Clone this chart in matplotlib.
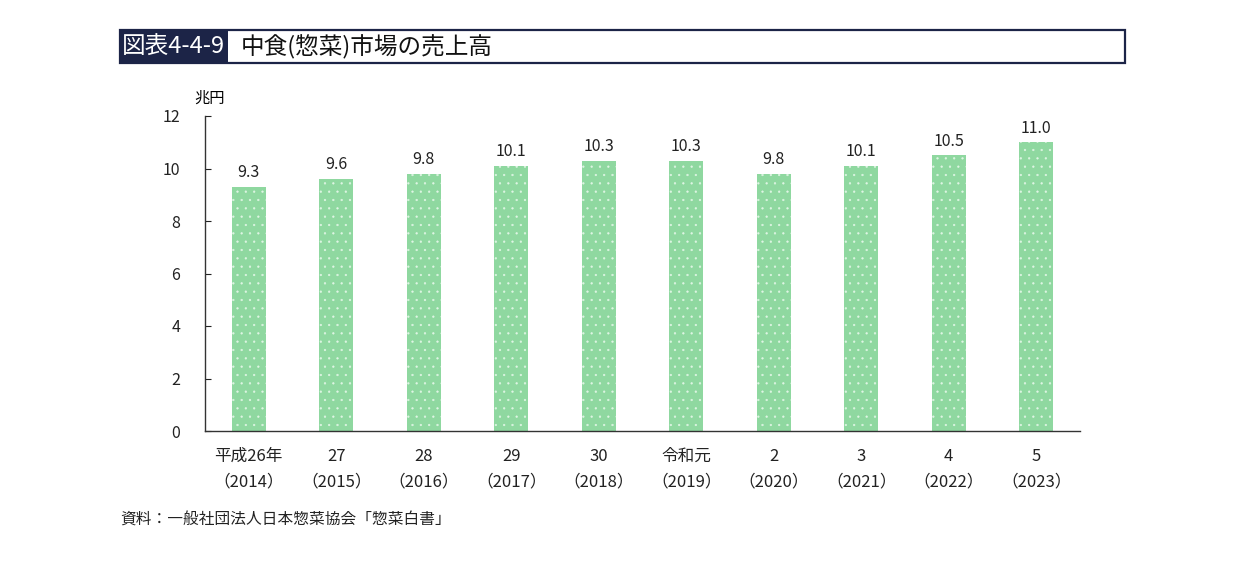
import matplotlib
matplotlib.use('Agg')
import matplotlib.pyplot as plt
from matplotlib.patches import Rectangle

plt.rcParams['font.family'] = ['Noto Sans CJK JP', 'DejaVu Sans']
plt.rcParams['hatch.linewidth'] = 0.4

era_labels = ['平成26年', '27', '28', '29', '30', '令和元', '2', '3', '4', '5']
years = ['2014', '2015', '2016', '2017', '2018', '2019', '2020', '2021', '2022', '2023']
sales = [9.3, 9.6, 9.8, 10.1, 10.3, 10.3, 9.8, 10.1, 10.5, 11.0]
yticks = [0, 2, 4, 6, 8, 10, 12]

navy = '#1c2447'
green = '#8fd8a0'

fig = plt.figure(figsize=(12.41, 5.88), dpi=100)
ax = fig.add_axes([205 / 1241, 1 - 431 / 588, 875 / 1241, 315 / 588])

x = list(range(len(sales)))
bars = ax.bar(x, sales, width=0.39, color=green, edgecolor='#dff5e4',
              linewidth=0, hatch='..')
for xi, v in zip(x, sales):
    ax.annotate(f'{v:.1f}', (xi, v), xytext=(0, 4), textcoords='offset points',
                ha='center', va='bottom', fontsize=11.5, color='#222222')

ax.set_xlim(-0.5, len(sales) - 0.5)
ax.set_ylim(0, 12)
ax.set_yticks(yticks)
ax.set_yticklabels([str(t) for t in yticks], fontsize=11.5)
ax.tick_params(axis='y', direction='in', length=4, pad=18, colors='#222222')
ax.set_xticks(x)
ax.set_xticklabels([f'{e}\n（{y}）' for e, y in zip(era_labels, years)],
                   fontsize=12, linespacing=1.7)
ax.tick_params(axis='x', length=0, pad=12, colors='#222222')
for s in ['top', 'right']:
    ax.spines[s].set_visible(False)
for s in ['left', 'bottom']:
    ax.spines[s].set_color('#333333')
    ax.spines[s].set_linewidth(1.0)

fig.text(210 / 1241, 1 - 98 / 588, '兆円', fontsize=11, ha='center', va='center')

# title box
fig.patches.append(Rectangle((120 / 1241, 1 - 63 / 588), 1005 / 1241, 33 / 588,
                             transform=fig.transFigure, facecolor='white',
                             edgecolor=navy, linewidth=1.6))
fig.patches.append(Rectangle((121 / 1241, 1 - 62 / 588), 107 / 1241, 31 / 588,
                             transform=fig.transFigure, facecolor=navy,
                             edgecolor='none'))
fig.text(122 / 1241, 1 - 47 / 588, '図表4-4-9', fontsize=17, color='white',
         ha='left', va='center')
fig.text(241 / 1241, 1 - 47 / 588, '中食(惣菜)市場の売上高', fontsize=17,
         color='#111111', ha='left', va='center')

fig.text(120 / 1241, 1 - 520 / 588, '資料：一般社団法人日本惣菜協会「惣菜白書」',
         fontsize=11.3, color='#222222', ha='left', va='center')

fig.savefig('out.png', dpi=100)
